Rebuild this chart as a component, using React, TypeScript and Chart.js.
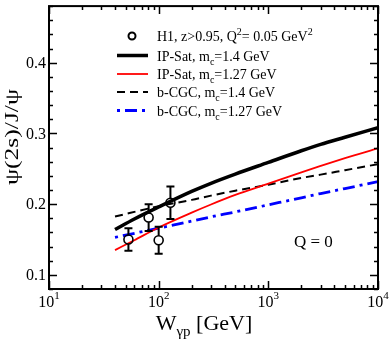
import React, { useEffect, useRef } from 'react';
import { Chart, registerables } from 'chart.js';
Chart.register(...registerables);

// ---- data ----
const W_IPSAT = [40, 60, 100, 200, 300, 500, 1000, 2000, 3000, 5000, 10000];
const IPSAT_14 = [0.164, 0.179, 0.196, 0.218, 0.2295, 0.2425, 0.259, 0.2755, 0.2845, 0.2945, 0.308];
const IPSAT_127 = [0.135, 0.149, 0.167, 0.188, 0.1995, 0.213, 0.229, 0.245, 0.254, 0.265, 0.279];
const W_BCGC = [40, 100, 200, 300, 500, 1000, 2000, 3000, 5000, 10000];
const BCGC_14 = [0.1824, 0.197, 0.206, 0.212, 0.219, 0.2275, 0.237, 0.2417, 0.248, 0.2565];
const BCGC_127 = [0.153, 0.166, 0.176, 0.182, 0.189, 0.199, 0.209, 0.215, 0.222, 0.232];
const H1_W = [53, 81, 100, 128];
const H1_R = [0.150, 0.181, 0.149, 0.202];
const H1_ERR = [0.016, 0.019, 0.019, 0.023];
const X_MAJOR = [10, 100, 1000, 10000];
const X_EXP = ['1', '2', '3', '4'];
const Y_MAJOR = [0.1, 0.2, 0.3, 0.4];
const Y_LABELS = ['0.1', '0.2', '0.3', '0.4'];

const FONT = '"Liberation Serif", "Times New Roman", serif';

type Run = { t: string; size?: number; dy?: number };

function runsWidth(ctx: CanvasRenderingContext2D, runs: Run[], base: number) {
  let w = 0;
  for (const r of runs) {
    ctx.font = `${r.size ?? base}px ${FONT}`;
    w += ctx.measureText(r.t).width;
  }
  return w;
}
function drawRuns(ctx: CanvasRenderingContext2D, x: number, y: number, runs: Run[], base: number) {
  let cx = x;
  for (const r of runs) {
    ctx.font = `${r.size ?? base}px ${FONT}`;
    ctx.fillText(r.t, cx, y + (r.dy ?? 0));
    cx += ctx.measureText(r.t).width;
  }
  return cx;
}

const framePlugin = {
  id: 'frame',
  afterDatasetsDraw(chart: any) {
    const ctx: CanvasRenderingContext2D = chart.ctx;
    const xs = chart.scales.x;
    const ys = chart.scales.y;
    ctx.save();
    ctx.strokeStyle = '#000';
    ctx.lineWidth = 2;
    const r = 4.5;
    H1_W.forEach((w, i) => {
      const px = xs.getPixelForValue(w);
      const py = ys.getPixelForValue(H1_R[i]);
      const top = ys.getPixelForValue(H1_R[i] + H1_ERR[i]);
      const bot = ys.getPixelForValue(H1_R[i] - H1_ERR[i]);
      ctx.beginPath();
      ctx.moveTo(px, top); ctx.lineTo(px, py - r);
      ctx.moveTo(px, py + r); ctx.lineTo(px, bot);
      ctx.moveTo(px - 4, top); ctx.lineTo(px + 4, top);
      ctx.moveTo(px - 4, bot); ctx.lineTo(px + 4, bot);
      ctx.stroke();
    });
    ctx.restore();
  },
  afterDraw(chart: any) {
    const ctx: CanvasRenderingContext2D = chart.ctx;
    const a = chart.chartArea;
    const xs = chart.scales.x;
    const ys = chart.scales.y;
    ctx.save();
    ctx.strokeStyle = '#000';
    ctx.fillStyle = '#000';
    ctx.lineWidth = 1.5;
    ctx.beginPath();
    const xt: [number, boolean][] = [];
    for (let d = 10; d <= 10000; d *= 10) {
      xt.push([d, true]);
      if (d < 10000) for (let m = 2; m <= 9; m++) xt.push([d * m, false]);
    }
    for (const [v, maj] of xt) {
      const p = Math.round(xs.getPixelForValue(v)) + 0.5;
      const L = maj ? 8 : 4;
      ctx.moveTo(p, a.bottom); ctx.lineTo(p, a.bottom - L);
      ctx.moveTo(p, a.top); ctx.lineTo(p, a.top + L);
    }
    for (let k = 4; k <= 24; k++) {
      const v = k * 0.02;
      const maj = k % 5 === 0;
      const p = Math.round(ys.getPixelForValue(v)) + 0.5;
      const L = maj ? 8 : 4;
      ctx.moveTo(a.left, p); ctx.lineTo(a.left + L, p);
      ctx.moveTo(a.right, p); ctx.lineTo(a.right - L, p);
    }
    ctx.stroke();
    ctx.lineWidth = 2;
    ctx.strokeRect(a.left, a.top, a.right - a.left, a.bottom - a.top);

    // y tick labels
    ctx.textBaseline = 'middle';
    ctx.textAlign = 'right';
    ctx.font = `16px ${FONT}`;
    Y_MAJOR.forEach((v, i) => {
      ctx.fillText(Y_LABELS[i], a.left - 3, ys.getPixelForValue(v) + 1);
    });
    // x tick labels
    ctx.textAlign = 'left';
    ctx.textBaseline = 'alphabetic';
    X_MAJOR.forEach((v, i) => {
      const runs: Run[] = [{ t: '10' }, { t: X_EXP[i], size: 11, dy: -8 }];
      const w = runsWidth(ctx, runs, 16);
      drawRuns(ctx, xs.getPixelForValue(v) - w / 2, a.bottom + 18, runs, 16);
    });
    // x title
    const xt2: Run[] = [{ t: 'W' }, { t: 'γp', size: 15, dy: 6 }, { t: ' [GeV]' }];
    const xw = runsWidth(ctx, xt2, 22);
    drawRuns(ctx, 204 - xw / 2, a.bottom + 41, xt2, 22);
    // y title (stretched along its length)
    ctx.save();
    ctx.font = `18px ${FONT}`;
    const yt = 'ψ(2s)/J/ψ';
    const tw = ctx.measureText(yt).width;
    ctx.translate(18, 137);
    ctx.rotate(-Math.PI / 2);
    ctx.scale(96 / tw, 1);
    ctx.textAlign = 'center';
    ctx.fillText(yt, 0, 0);
    ctx.restore();

    // Q = 0
    ctx.font = `17px ${FONT}`;
    ctx.textAlign = 'left';
    ctx.fillText('Q = 0', 294, 247);

    // legend
    const lx0 = 117, lx1 = 148, tx = 157;
    const rows = [36, 55.5, 74, 92, 110.5];
    ctx.beginPath();
    ctx.lineWidth = 2;
    ctx.arc(132, rows[0], 3.5, 0, Math.PI * 2);
    ctx.stroke();
    const lineRow = (y: number, color: string, w: number, dash: number[]) => {
      ctx.beginPath();
      ctx.strokeStyle = color;
      ctx.lineWidth = w;
      ctx.setLineDash(dash);
      ctx.moveTo(lx0, y); ctx.lineTo(lx1, y);
      ctx.stroke();
      ctx.setLineDash([]);
    };
    lineRow(rows[1], '#000', 3.5, []);
    lineRow(rows[2], '#ff0000', 1.8, []);
    lineRow(rows[3], '#000', 2, [8, 5]);
    lineRow(rows[4], '#0000ff', 2.8, [3, 5, 12, 5]);
    ctx.fillStyle = '#000';
    const base = 14;
    const off = 5;
    drawRuns(ctx, tx, rows[0] + off, [
      { t: 'H1, z>0.95, Q' }, { t: '2', size: 10, dy: -6 }, { t: '= 0.05 GeV' }, { t: '2', size: 10, dy: -6 },
    ], base);
    drawRuns(ctx, tx, rows[1] + off, [{ t: 'IP-Sat, m' }, { t: 'c', size: 10, dy: 4 }, { t: '=1.4 GeV' }], base);
    drawRuns(ctx, tx, rows[2] + off, [{ t: 'IP-Sat, m' }, { t: 'c', size: 10, dy: 4 }, { t: '=1.27 GeV' }], base);
    drawRuns(ctx, tx, rows[3] + off, [{ t: 'b-CGC, m' }, { t: 'c', size: 10, dy: 4 }, { t: '=1.4 GeV' }], base);
    drawRuns(ctx, tx, rows[4] + off, [{ t: 'b-CGC, m' }, { t: 'c', size: 10, dy: 4 }, { t: '=1.27 GeV' }], base);
    ctx.restore();
  },
};

export default function App() {
  const ref = useRef<HTMLCanvasElement>(null);
  useEffect(() => {
    if (!ref.current) return;
    const pts = (xs: number[], ys: number[]) => xs.map((x, i) => ({ x, y: ys[i] }));
    const chart = new Chart(ref.current, {
      type: 'line',
      data: {
        datasets: [
          {
            label: 'H1',
            data: pts(H1_W, H1_R),
            showLine: false,
            pointStyle: 'circle',
            pointRadius: 4.5,
            pointBorderWidth: 1.6,
            borderColor: '#000',
            backgroundColor: 'rgba(0,0,0,0)',
          },
          {
            label: 'IP-Sat 1.4',
            data: pts(W_IPSAT, IPSAT_14),
            borderColor: '#000',
            borderWidth: 3.5,
            pointRadius: 0,
            cubicInterpolationMode: 'monotone',
          },
          {
            label: 'IP-Sat 1.27',
            data: pts(W_IPSAT, IPSAT_127),
            borderColor: '#ff0000',
            borderWidth: 1.8,
            pointRadius: 0,
            cubicInterpolationMode: 'monotone',
          },
          {
            label: 'b-CGC 1.4',
            data: pts(W_BCGC, BCGC_14),
            borderColor: '#000',
            borderWidth: 2,
            borderDash: [8, 5],
            pointRadius: 0,
            cubicInterpolationMode: 'monotone',
          },
          {
            label: 'b-CGC 1.27',
            data: pts(W_BCGC, BCGC_127),
            borderColor: '#0000ff',
            borderWidth: 2.8,
            borderDash: [3, 5, 12, 5],
            pointRadius: 0,
            cubicInterpolationMode: 'monotone',
          },
        ],
      },
      options: {
        animation: false,
        responsive: false,
        layout: { padding: { left: 49, right: 12, top: 2, bottom: 54 } },
        plugins: { legend: { display: false }, tooltip: { enabled: false } },
        scales: {
          x: { type: 'logarithmic', min: 10, max: 10000, display: false },
          y: { type: 'linear', min: 0.08, max: 0.48, display: false },
        },
      },
      plugins: [framePlugin],
    } as any);
    return () => chart.destroy();
  }, []);
  return (
    <div style={{ position: 'absolute', left: 0, top: 0, width: 390, height: 343, background: '#fff' }}>
      <canvas ref={ref} width={390} height={343} />
    </div>
  );
}
